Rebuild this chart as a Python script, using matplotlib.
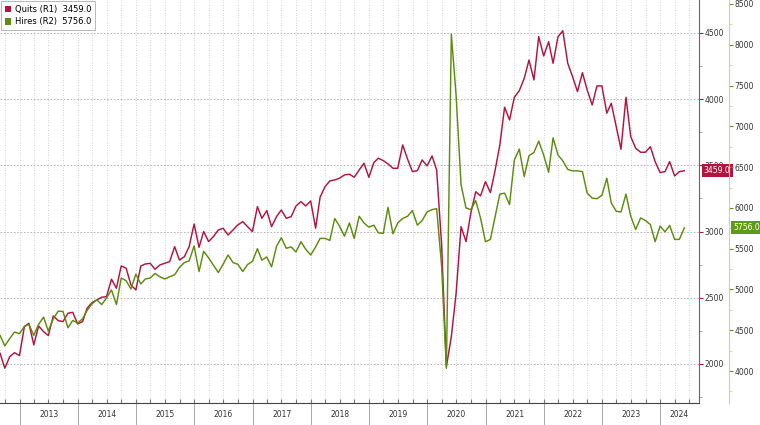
import pandas as pd
import matplotlib
matplotlib.use("Agg")
import matplotlib.pyplot as plt
import matplotlib.dates as mdates
from matplotlib.patches import Patch
from matplotlib.ticker import FixedLocator, FixedFormatter, MultipleLocator, NullFormatter

# JOLTS monthly, Aug 2012 .. May 2024 (thousands)
quits = [
    2081, 1968, 2055, 2085, 2063, 2282, 2307, 2144, 2287, 2244,
    2214, 2363, 2327, 2320, 2383, 2390, 2302, 2320, 2421, 2463,
    2483, 2504, 2508, 2640, 2572, 2740, 2723, 2597, 2559, 2740,
    2755, 2760, 2715, 2748, 2760, 2773, 2886, 2785, 2810, 2886,
    3057, 2881, 3000, 2924, 2962, 3012, 3025, 2974, 3012, 3050,
    3075, 3037, 3000, 3188, 3100, 3158, 3037, 3113, 3163, 3100,
    3113, 3193, 3226, 3193, 3231, 3025, 3259, 3339, 3382, 3390,
    3403, 3428, 3433, 3410, 3465, 3516, 3410, 3521, 3554, 3536,
    3511, 3478, 3478, 3654, 3546, 3453, 3460, 3541, 3496, 3571,
    3465, 2900, 1980, 2206, 2534, 3037, 2924, 3138, 3301, 3269,
    3377, 3294, 3453, 3654, 3939, 3843, 4014, 4064, 4157, 4296,
    4145, 4472, 4326, 4434, 4271, 4472, 4517, 4271, 4170, 4057,
    4200, 4069, 3956, 4100, 4100, 3894, 3969, 3792, 3622, 4014,
    3717, 3629, 3599, 3599, 3641, 3528, 3445, 3453, 3528, 3420,
    3453, 3459,
]
hires = [
    4438, 4308, 4398, 4478, 4458, 4547, 4572, 4438, 4572, 4661,
    4490, 4641, 4734, 4730, 4531, 4620, 4588, 4641, 4742, 4823,
    4872, 4815, 4896, 4994, 4815, 5140, 5107, 5006, 5188, 5067,
    5128, 5140, 5196, 5156, 5128, 5156, 5180, 5269, 5330, 5350,
    5533, 5220, 5468, 5387, 5300, 5208, 5310, 5423, 5330, 5310,
    5220, 5305, 5345, 5500, 5359, 5399, 5277, 5530, 5634, 5505,
    5521, 5460, 5585, 5493, 5423, 5521, 5626, 5626, 5602, 5870,
    5776, 5654, 5816, 5626, 5898, 5816, 5764, 5788, 5695, 5687,
    6007, 5683, 5816, 5870, 5898, 5967, 5788, 5845, 5950, 5979,
    5991, 5290, 4033, 8128, 7378, 6283, 5999, 5979, 6089, 5877,
    5585, 5614, 5877, 6169, 6181, 6040, 6587, 6721, 6384, 6640,
    6680, 6819, 6648, 6437, 6859, 6648, 6577, 6472, 6454, 6454,
    6445, 6181, 6120, 6113, 6153, 6364, 6060, 5959, 5950, 6169,
    5898, 5736, 5877, 5845, 5796, 5585, 5776, 5707, 5785, 5614,
    5614, 5756,
]
dates = pd.date_range("2012-08-31", periods=len(quits), freq="ME")
years = list(range(2013, 2025))

QUITS_COLOR = "#b3143f"
HIRES_COLOR = "#5e8c0e"
FONT = ["Liberation Sans Narrow", "DejaVu Sans"]
plt.rcParams["font.family"] = FONT

fig = plt.figure(figsize=(7.6, 4.25), dpi=100)
ax = fig.add_axes([0, 22 / 425, 699 / 760, 403 / 425])
ax2 = ax.twinx()

ax.plot(dates, quits, color=QUITS_COLOR, lw=1.05)
ax2.plot(dates, hires, color=HIRES_COLOR, lw=1.05)

x_start = pd.Timestamp("2012-08-31")
x_end = pd.Timestamp("2024-08-31")
ax.set_xlim(x_start, x_end)
ax.set_ylim(1705, 4749)
ax2.set_ylim(3608, 8549)

# spines
for side in ["top", "left"]:
    ax.spines[side].set_visible(False)
ax.spines["right"].set_color("#666666")
ax.spines["bottom"].set_color("#444444")
for side in ["top", "left", "bottom"]:
    ax2.spines[side].set_visible(False)
ax2.spines["right"].set_position(("outward", 21.6))
ax2.spines["right"].set_color("#c9d69b")

# y axes
ax.yaxis.tick_right()
ax.yaxis.set_major_locator(MultipleLocator(500))
ax.yaxis.set_minor_locator(MultipleLocator(250))
ax.tick_params(axis="y", which="major", direction="out", length=3, width=0.8,
               color=QUITS_COLOR, labelsize=5.5, labelcolor="#333333", pad=1)
ax.tick_params(axis="y", which="minor", direction="out", length=2, color="#999999")
ax2.yaxis.set_major_locator(MultipleLocator(500))
ax2.yaxis.set_minor_locator(MultipleLocator(250))
ax2.tick_params(axis="y", which="major", direction="out", length=3, width=0.8,
                color=HIRES_COLOR, labelsize=5.5, labelcolor="#333333", pad=1)
ax2.tick_params(axis="y", which="minor", direction="out", length=2, color="#c9d69b")

# grid
ax.grid(axis="y", which="major", ls=(0, (2, 2)), color="#aaaaaa", lw=0.6)
ax.xaxis.set_major_locator(mdates.MonthLocator(bymonth=[1, 4, 7, 10]))
ax.xaxis.set_major_formatter(NullFormatter())
ax.grid(axis="x", which="major", ls=(0, (1, 2)), color="#c4c4c4", lw=0.6)
ax.tick_params(axis="x", which="major", direction="in", length=3, color="#777777")

# year labels centred in each year, separators at Jan 1
starts = [pd.Timestamp(y, 1, 1) for y in years]
mids = [s + (min(pd.Timestamp(y + 1, 1, 1), x_end) - s) / 2 for s, y in zip(starts, years)]
ax.xaxis.set_minor_locator(FixedLocator(mdates.date2num(mids)))
ax.xaxis.set_minor_formatter(FixedFormatter([str(y) for y in years]))
ax.tick_params(axis="x", which="minor", length=0, labelsize=5.5, labelcolor="#333333", pad=5)
ax.vlines(starts, -22 / 403, 0, transform=ax.get_xaxis_transform(),
          color="#999999", lw=0.6, clip_on=False)

# last value tags
ax.annotate(f"{quits[-1]:.1f}", xy=(1, quits[-1]), xycoords=("axes fraction", "data"),
            xytext=(3.5, 0), textcoords="offset points", va="center", ha="left",
            fontsize=5.5, color="white", annotation_clip=False,
            bbox=dict(boxstyle="square,pad=0.25", fc=QUITS_COLOR, ec="none"))
ax2.annotate(f"{hires[-1]:.1f}", xy=(1, hires[-1]), xycoords=("axes fraction", "data"),
             xytext=(24.5, 0), textcoords="offset points", va="center", ha="left",
             fontsize=5.5, color="white", annotation_clip=False,
             bbox=dict(boxstyle="square,pad=0.25", fc="#5f9a18", ec="none"))

handles = [Patch(fc=QUITS_COLOR, ec="none"), Patch(fc=HIRES_COLOR, ec="none")]
labels = [f"Quits (R1)  {quits[-1]:.1f}", f"Hires (R2)  {hires[-1]:.1f}"]
leg = ax2.legend(handles, labels, loc="upper left", bbox_to_anchor=(0, 1),
                 borderaxespad=0.1, prop=dict(family=FONT, size=6), frameon=True,
                 fancybox=False, edgecolor="#999999", handlelength=0.8,
                 handleheight=0.8, handletextpad=0.4, borderpad=0.45, labelspacing=0.45)
leg.get_frame().set_linewidth(0.6)

fig.savefig("out.png", dpi=100, facecolor="white")
